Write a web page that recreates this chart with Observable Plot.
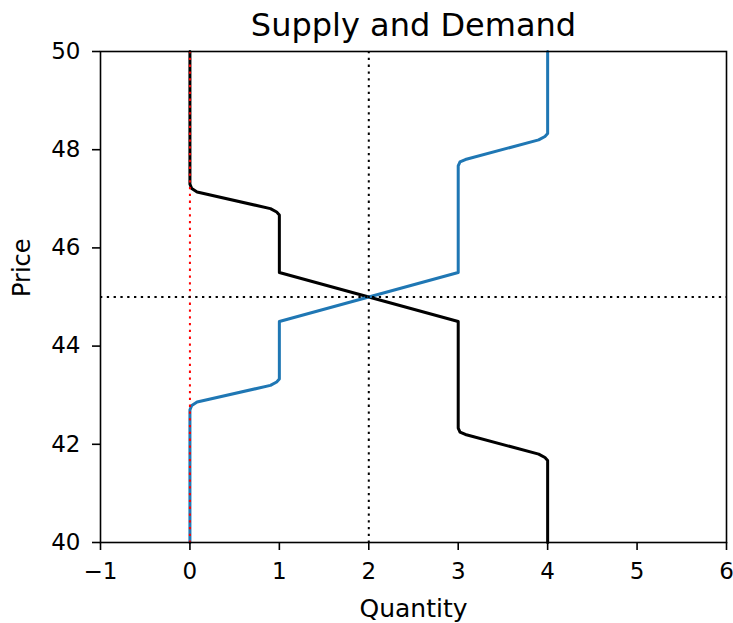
<!DOCTYPE html>
<html>
<head>
<meta charset="utf-8">
<script src="https://cdn.jsdelivr.net/npm/d3@7"></script>
<script src="https://cdn.jsdelivr.net/npm/@observablehq/plot@0.6"></script>
<style>
  html, body { margin: 0; padding: 0; background: #fff; }
  svg { display: block; }
</style>
</head>
<body>
<div id="chart"></div>
<script>
// Supply curve (blue) points: quantity, price
const supplyQ = [0, 0, 0.02, 0.08, 0.9, 0.97, 1, 1, 3, 3, 3.02, 3.08, 3.9, 3.97, 4, 4];
const supplyP = [40, 42.7, 42.79, 42.86, 43.2, 43.27, 43.33, 44.5, 45.5, 47.67, 47.75, 47.8, 48.2, 48.27, 48.33, 50];
// Demand curve (black) points: quantity, price
const demandQ = [0, 0, 0.02, 0.08, 0.9, 0.97, 1, 1, 3, 3, 3.02, 3.08, 3.9, 3.97, 4, 4];
const demandP = [50, 47.3, 47.21, 47.14, 46.8, 46.73, 46.67, 45.5, 44.5, 42.33, 42.25, 42.2, 41.8, 41.73, 41.67, 40];
// Reference lines
const zeroQ = [0];
const eqQ = [2];
const eqP = [45];
// Ticks
const xTicks = [-1, 0, 1, 2, 3, 4, 5, 6];
const yTicks = [40, 42, 44, 46, 48, 50];
const titleText = "Supply and Demand";
const xLabel = "Quantity";
const yLabel = "Price";

const supply = supplyQ.map((q, i) => ({q, p: supplyP[i]}));
const demand = demandQ.map((q, i) => ({q, p: demandP[i]}));

const font = "DejaVu Sans";
const fmt = d3.format("d");
const dots = "2.3,4.5";

const chart = Plot.plot({
  width: 733,
  height: 623,
  marginLeft: 100,
  marginRight: 7,
  marginTop: 51,
  marginBottom: 81,
  style: {fontFamily: font, fontSize: "23px", color: "#000", background: "#fff"},
  x: {domain: [-1, 6]},
  y: {domain: [40, 50]},
  marks: [
    Plot.line(demand, {x: "q", y: "p", stroke: "#000", strokeWidth: 3, curve: "linear"}),
    Plot.line(supply, {x: "q", y: "p", stroke: "#1f77b4", strokeWidth: 3, curve: "linear"}),
    Plot.ruleX(zeroQ, {stroke: "red", strokeWidth: 2, strokeDasharray: dots}),
    Plot.ruleX(eqQ, {stroke: "#000", strokeWidth: 2, strokeDasharray: dots}),
    Plot.ruleY(eqP, {stroke: "#000", strokeWidth: 2, strokeDasharray: dots}),
    Plot.frame({stroke: "#000", strokeWidth: 1.6}),
    Plot.axisX(xTicks, {tickSize: 8, tickPadding: 12, tickFormat: fmt, label: null, fontSize: 23, stroke: "#000", strokeWidth: 1.6}),
    Plot.axisY(yTicks, {tickSize: 8, tickPadding: 12, tickFormat: fmt, label: null, fontSize: 23, stroke: "#000", strokeWidth: 1.6}),
    Plot.text([titleText], {frameAnchor: "top", dy: -26, fontSize: 32, fill: "#000", lineAnchor: "middle"}),
    Plot.text([xLabel], {frameAnchor: "bottom", dy: 66, fontSize: 25, fill: "#000", lineAnchor: "middle"}),
    Plot.text([yLabel], {frameAnchor: "left", dx: -78, rotate: -90, fontSize: 24, fill: "#000", lineAnchor: "middle"})
  ]
});
document.getElementById("chart").appendChild(chart);
</script>
</body>
</html>
